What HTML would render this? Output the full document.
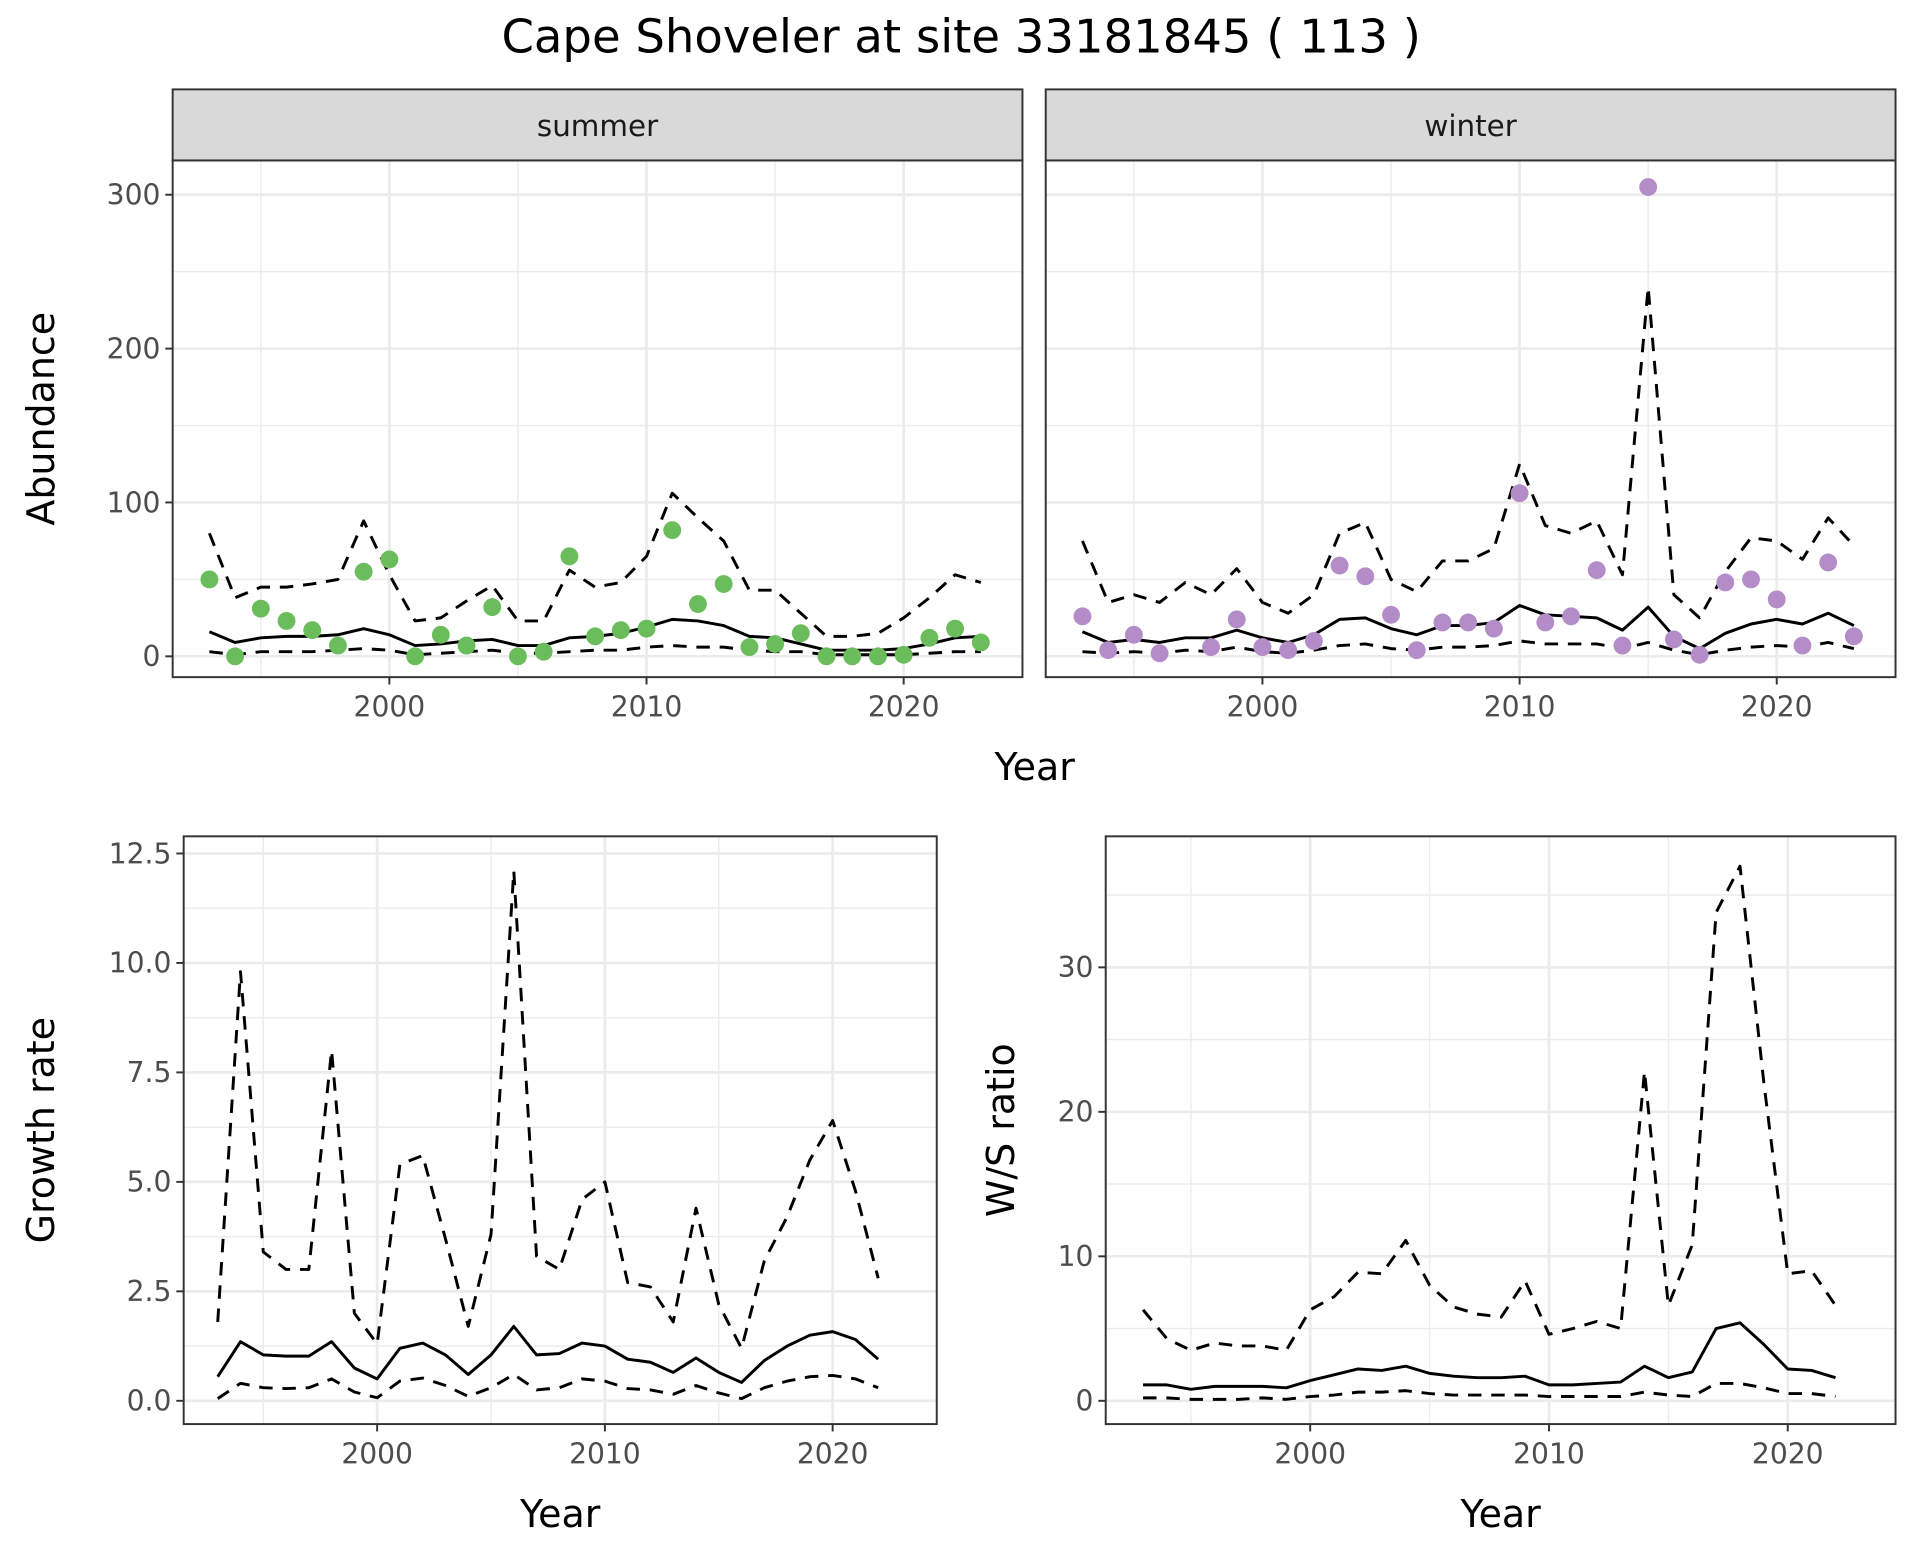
<!DOCTYPE html>
<html><head><meta charset="utf-8"><style>
html,body{margin:0;padding:0;background:#fff}
svg{display:block}
text{font-family:"DejaVu Sans","Liberation Sans",sans-serif}
</style></head><body>
<svg id="chart" width="1920" height="1560" viewBox="0 0 1568 1274" xmlns="http://www.w3.org/2000/svg">
<text x="785" y="43" text-anchor="middle" font-size="38" fill="#000">Cape Shoveler at site 33181845 ( 113 )</text>
</svg>
<script>
const yearsA = [1993,1994,1995,1996,1997,1998,1999,2000,2001,2002,2003,2004,2005,2006,2007,2008,2009,2010,2011,2012,2013,2014,2015,2016,2017,2018,2019,2020,2021,2022,2023];
const summerObs = [50,0,31,23,17,7,55,63,0,14,7,32,0,3,65,13,17,18,82,34,47,6,8,15,0,0,0,1,12,18,9];
const summerMean = [16,9,12,13,13,14,18,14,7,8,10,11,7,7,12,13,15,19,24,23,20,13,12,8,4,4,4,5,8,12,13];
const summerUpper = [80,38,45,45,47,50,88,53,23,25,36,46,23,23,56,45,48,65,106,90,75,43,43,28,13,13,15,25,38,53,48];
const summerLower = [3,1,3,3,3,4,5,4,1,2,3,4,2,2,3,4,4,6,7,6,6,4,3,3,1,1,1,1,2,3,3];
const winterObs = [26,4,14,2,null,6,24,6,4,10,59,52,27,4,22,22,18,106,22,26,56,7,305,11,1,48,50,37,7,61,13];
const winterMean = [16,9,11,9,12,12,17,12,9,14,24,25,18,14,20,20,22,33,27,26,25,17,32,13,5,15,21,24,21,28,20];
const winterUpper = [75,35,40,35,48,40,57,35,28,40,80,87,50,42,62,62,70,125,85,80,88,53,240,40,25,55,77,75,63,90,72];
const winterLower = [3,2,3,2,4,3,6,3,2,4,7,8,5,4,6,6,7,10,8,8,8,5,9,4,1,4,6,7,6,9,5];
const yearsB = [1993,1994,1995,1996,1997,1998,1999,2000,2001,2002,2003,2004,2005,2006,2007,2008,2009,2010,2011,2012,2013,2014,2015,2016,2017,2018,2019,2020,2021,2022];
const growthMean = [0.55,1.35,1.05,1.02,1.02,1.35,0.75,0.5,1.2,1.32,1.05,0.6,1.05,1.7,1.05,1.08,1.32,1.25,0.95,0.88,0.65,0.98,0.65,0.42,0.92,1.25,1.5,1.58,1.4,0.95];
const growthUpper = [1.8,9.8,3.4,3.0,3.0,8.0,2.0,1.3,5.4,5.6,3.7,1.7,3.8,12.1,3.3,3.0,4.6,5.0,2.7,2.6,1.8,4.4,2.2,1.2,3.2,4.2,5.5,6.4,4.8,2.8];
const growthLower = [0.05,0.4,0.3,0.28,0.3,0.5,0.2,0.07,0.45,0.52,0.35,0.1,0.3,0.6,0.25,0.3,0.5,0.45,0.28,0.25,0.15,0.35,0.18,0.05,0.3,0.45,0.55,0.58,0.5,0.3];
const wsMean = [1.1,1.1,0.8,1.0,1.0,1.0,0.9,1.4,1.8,2.2,2.1,2.4,1.9,1.7,1.6,1.6,1.7,1.1,1.1,1.2,1.3,2.4,1.6,2.0,5.0,5.4,3.9,2.2,2.1,1.6];
const wsUpper = [6.3,4.3,3.5,4.0,3.8,3.8,3.5,6.3,7.2,8.9,8.8,11.1,8.0,6.5,6.0,5.8,8.3,4.6,5.0,5.5,5.0,22.8,6.6,10.8,33.8,37.0,22.0,8.8,9.0,6.6];
const wsLower = [0.2,0.2,0.1,0.1,0.1,0.2,0.1,0.3,0.4,0.6,0.6,0.7,0.5,0.4,0.4,0.4,0.4,0.3,0.3,0.3,0.3,0.6,0.4,0.3,1.2,1.2,0.9,0.5,0.5,0.3];
const xTicks = [2000,2010,2020];
const xMinor = [1995,2005,2015];
const abTicks = [0,100,200,300];
const abMinor = [50,150,250];
const grTicks = [0,2.5,5,7.5,10,12.5];
const grTickLabels = ["0.0","2.5","5.0","7.5","10.0","12.5"];
const grMinor = [1.25,3.75,6.25,8.75,11.25];
const wsTicks = [0,10,20,30];
const wsMinor = [5,15,25,35];

const NS = "http://www.w3.org/2000/svg";
const svg = document.getElementById('chart');
function mk(tag, attrs, parent){const e=document.createElementNS(NS,tag);for(const k in attrs)e.setAttribute(k,attrs[k]);(parent||svg).appendChild(e);return e;}

function panel(cfg){
  const g = mk('g',{});
  
  
  const {x0,x1,y0,y1} = cfg;
  const X = v => cfg.xa + (v - cfg.xv) * cfg.xs;
  const Y = v => cfg.ya - v * cfg.ys;
  mk('rect',{x:x0,y:y0,width:x1-x0,height:y1-y0,fill:'#fff'},g);
  cfg.yMinor.forEach(v=>mk('line',{x1:x0,x2:x1,y1:Y(v),y2:Y(v),stroke:'#ebebeb','stroke-width':1.1},g));
  xMinor.forEach(v=>mk('line',{x1:X(v),x2:X(v),y1:y0,y2:y1,stroke:'#ebebeb','stroke-width':1.1},g));
  cfg.yTicks.forEach(v=>mk('line',{x1:x0,x2:x1,y1:Y(v),y2:Y(v),stroke:'#ebebeb','stroke-width':2.2},g));
  xTicks.forEach(v=>mk('line',{x1:X(v),x2:X(v),y1:y0,y2:y1,stroke:'#ebebeb','stroke-width':2.2},g));
  const line = (arr, yrs, dash, nm) => {
    let d='';yrs.forEach((yr,i)=>{d+=(i?'L':'M')+X(yr).toFixed(1)+','+Y(arr[i]).toFixed(1);});
    const p = mk('path',{d:d,fill:'none',stroke:'#000','stroke-width':2.4,'stroke-dasharray':dash?'11,8':'none','stroke-linejoin':'round'},g);
    
    
  };
  line(cfg.upper, cfg.years, true, 'upper-ci-line');
  line(cfg.mean, cfg.years, false, 'mean-line');
  line(cfg.lower, cfg.years, true, 'lower-ci-line');
  if (cfg.obs) cfg.obs.forEach((v,i)=>{ if(v===null) return;
    const c = mk('circle',{cx:X(cfg.years[i]),cy:Y(v),r:7.3,fill:cfg.color},g);
    
    
  });
  mk('rect',{x:x0,y:y0,width:x1-x0,height:y1-y0,fill:'none',stroke:'#333','stroke-width':1.6},g);
  if (cfg.strip){
    const s = mk('rect',{x:x0,y:y0-58,width:x1-x0,height:58,fill:'#d9d9d9',stroke:'#333','stroke-width':1.6},g);
    
    
    const t = mk('text',{x:(x0+x1)/2,y:y0-20,'text-anchor':'middle','font-size':24,fill:'#1a1a1a'},g);
    t.textContent = cfg.strip;
    
    
  }
  if (cfg.showY){
    cfg.yTicks.forEach((v,i)=>{
      mk('line',{x1:x0-6,x2:x0,y1:Y(v),y2:Y(v),stroke:'#333','stroke-width':1.6},g);
      const t = mk('text',{x:x0-10,y:Y(v)+8,'text-anchor':'end','font-size':23,fill:'#4d4d4d'},g);
      t.textContent = cfg.yLabels ? cfg.yLabels[i] : String(v);
      
      
    });
  }
  xTicks.forEach(v=>{
    mk('line',{x1:X(v),x2:X(v),y1:y1,y2:y1+6,stroke:'#333','stroke-width':1.6},g);
    const t = mk('text',{x:X(v),y:y1+32,'text-anchor':'middle','font-size':23,fill:'#4d4d4d'},g);
    t.textContent = String(v);
    
    
  });
  if (cfg.yTitle){
    const t = mk('text',{x:0,y:0,'text-anchor':'middle','font-size':31,fill:'#000',transform:`translate(${cfg.yTitleX},${(y0+y1)/2}) rotate(-90)`},g);
    t.textContent = cfg.yTitle;
    
    
  }
  if (cfg.xTitle){
    const t = mk('text',{x:(x0+x1)/2,y:y1+84,'text-anchor':'middle','font-size':31,fill:'#000'},g);
    t.textContent = 'Year';
    
    
  }
}

panel({name:'summer-panel',x0:141,x1:835,y0:131,y1:553,xa:318,xv:2000,xs:21,ya:536,ys:1.2566,
  yTicks:abTicks,yMinor:abMinor,years:yearsA,mean:summerMean,upper:summerUpper,lower:summerLower,obs:summerObs,color:'#6abd5a',
  strip:'summer',showY:true,yTitle:'Abundance',yTitleX:44});
panel({name:'winter-panel',x0:854,x1:1548,y0:131,y1:553,xa:1031,xv:2000,xs:21,ya:536,ys:1.2566,
  yTicks:abTicks,yMinor:abMinor,years:yearsA,mean:winterMean,upper:winterUpper,lower:winterLower,obs:winterObs,color:'#b48dc8',
  strip:'winter',showY:false});
const yt = mk('text',{x:845,y:637,'text-anchor':'middle','font-size':31,fill:'#000'});
yt.textContent='Year';


panel({name:'growth-rate-panel',x0:150,x1:765,y0:683,y1:1163,xa:308,xv:2000,xs:18.6,ya:1144,ys:35.76,
  yTicks:grTicks,yLabels:grTickLabels,yMinor:grMinor,years:yearsB,mean:growthMean,upper:growthUpper,lower:growthLower,
  showY:true,yTitle:'Growth rate',yTitleX:44,xTitle:true});
panel({name:'ws-ratio-panel',x0:903,x1:1548,y0:683,y1:1163,xa:1070,xv:2000,xs:19.5,ya:1144,ys:11.8,
  yTicks:wsTicks,yMinor:wsMinor,years:yearsB,mean:wsMean,upper:wsUpper,lower:wsLower,
  showY:true,yTitle:'W/S ratio',yTitleX:828,xTitle:true});
</script>
</body></html>
